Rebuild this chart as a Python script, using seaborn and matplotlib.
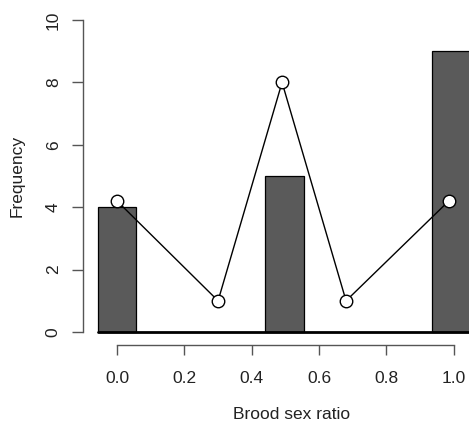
import numpy as np
import matplotlib
matplotlib.use('Agg')
import matplotlib.pyplot as plt
import seaborn as sns

# histogram bars
bar_x = [0.0, 0.497, 0.991]
bar_h = [4, 5, 9]
bar_w = 0.1135

# expected frequencies (points + line)
pt_x = [0.0, 0.30, 0.49, 0.68, 0.985]
pt_y = [4.2, 1.0, 8.0, 1.0, 4.2]

x_ticks = [0.0, 0.2, 0.4, 0.6, 0.8, 1.0]
y_ticks = [0, 2, 4, 6, 8, 10]

sns.set_style('white')
plt.rcParams['font.family'] = ['Liberation Sans', 'DejaVu Sans']

fig = plt.figure(figsize=(4.69, 4.23), dpi=100)
ax = fig.add_axes([83 / 469, 78.5 / 423, 386 / 469, 337 / 423])

ax.bar(bar_x, bar_h, width=bar_w, color='#5a5a5a', edgecolor='black', linewidth=0.9)

# thick baseline under the bars
ax.plot([bar_x[0] - bar_w / 2, 1.2], [0, 0], color='black', lw=2, zorder=3)

sns.lineplot(x=pt_x, y=pt_y, color='black', lw=1, marker='o', markersize=9,
             markerfacecolor='white', markeredgecolor='black', markeredgewidth=1,
             zorder=4, ax=ax)

ax.set_xlim(-0.101, 1.045)
ax.set_ylim(-0.4, 10.4)

ax.set_xticks(x_ticks)
ax.set_xticklabels([f'{v:.1f}' for v in x_ticks])
ax.set_yticks(y_ticks)
ax.set_yticklabels([str(v) for v in y_ticks], rotation=90, va='center')

for s in ['top', 'right']:
    ax.spines[s].set_visible(False)
ax.spines['left'].set_bounds(0, 10)
ax.spines['bottom'].set_bounds(0, 1)
for s in ['left', 'bottom']:
    ax.spines[s].set_color('#555555')
    ax.spines[s].set_linewidth(1)

ax.tick_params(axis='x', direction='out', length=7, width=1, color='#555555',
               pad=12, labelsize=12.5, labelcolor='#222222', bottom=True)
ax.tick_params(axis='y', direction='out', length=8, width=1, color='#555555',
               pad=8, labelsize=12.5, labelcolor='#222222', left=True)

ax.set_xlabel('Brood sex ratio', fontsize=12.5, color='#222222', va='center')
ax.set_ylabel('Frequency', fontsize=12.5, color='#222222', va='center')
ax.xaxis.set_label_coords(0.541, -0.209)
ax.yaxis.set_label_coords(-0.171, 0.5)

fig.savefig('out.png', dpi=100)
